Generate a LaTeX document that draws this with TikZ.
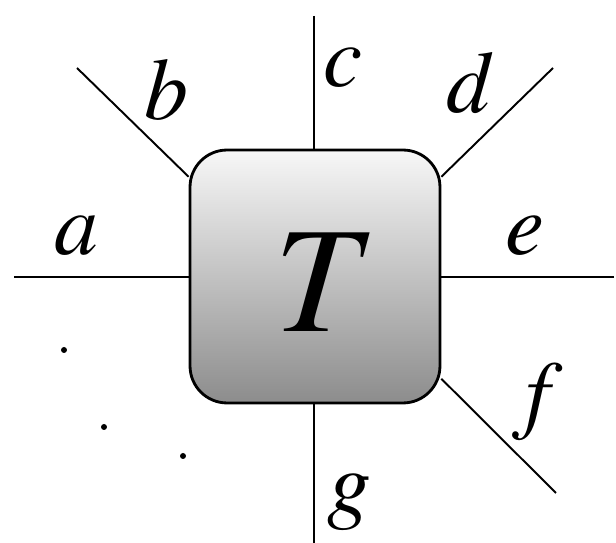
\documentclass[tikz,border=0pt]{standalone}
\usepackage{mathptmx}
\usetikzlibrary{calc,positioning}
\tikzset{
  tensorbox/.style={
    draw,
    line width=1.6pt,
    rounded corners=0.74cm,
    minimum width=5cm,
    minimum height=5.06cm,
    top color=black!3,
    bottom color=black!45
  },
  leg/.style={
    line width=1.1pt
  },
  legname/.style={
    inner sep=0,
    anchor=base,
    font=\fontsize{50}{55}\selectfont
  },
  dott/.style={
    shape=circle,
    fill,
    inner sep=0,
    minimum size=0.12cm
  }
}
\begin{document}
\begin{tikzpicture}[x=0.02cm,y=-0.02cm]
        \useasboundingbox (0,0) rectangle (616,543);
        \node[tensorbox] (box) at (315,276.5) {};
        \node[font=\fontsize{86}{90}\selectfont] (tname) at (326,282) {$T$};
        %legs
        \coordinate (aend) at (14,277);
        \coordinate (bend) at (77,68);
        \coordinate (cend) at (314,16);
        \coordinate (dend) at (553,68);
        \coordinate (eend) at (614,277);
        \coordinate (fend) at (556,493);
        \coordinate (gend) at (314,543);
        \draw[leg] (aend)--(aend-|box.west);
        \draw[leg] (bend)--($(box.north west)!0.11!(box.south west)$);
        \draw[leg] (cend)--(cend|-box.north);
        \draw[leg] (dend)--($(box.north east)!0.11!(box.south east)$);
        \draw[leg] (eend)--(eend-|box.east);
        \draw[leg] (fend)--($(box.north east)!0.9!(box.south east)$);
        \draw[leg] (gend)--(gend|-box.south);
        %labels
        \node[legname] (la) at (76,255) {$a$};
        \node[legname] (lb) at (166,120) {$b$};
        \node[legname] (lc) at (343,87) {$c$};
        \node[legname] (ld) at (471,113) {$d$};
        \node[legname] (le) at (525,255) {$e$};
        \node[legname] (lf) at (538,423) {$f$};
        \node[legname] (lg) at (349,513) {$g$};
        %dots
        \node[dott] (dot1) at (64,350) {};
        \node[dott] (dot2) at (104,427) {};
        \node[dott] (dot3) at (183,456) {};
\end{tikzpicture}
\end{document}
